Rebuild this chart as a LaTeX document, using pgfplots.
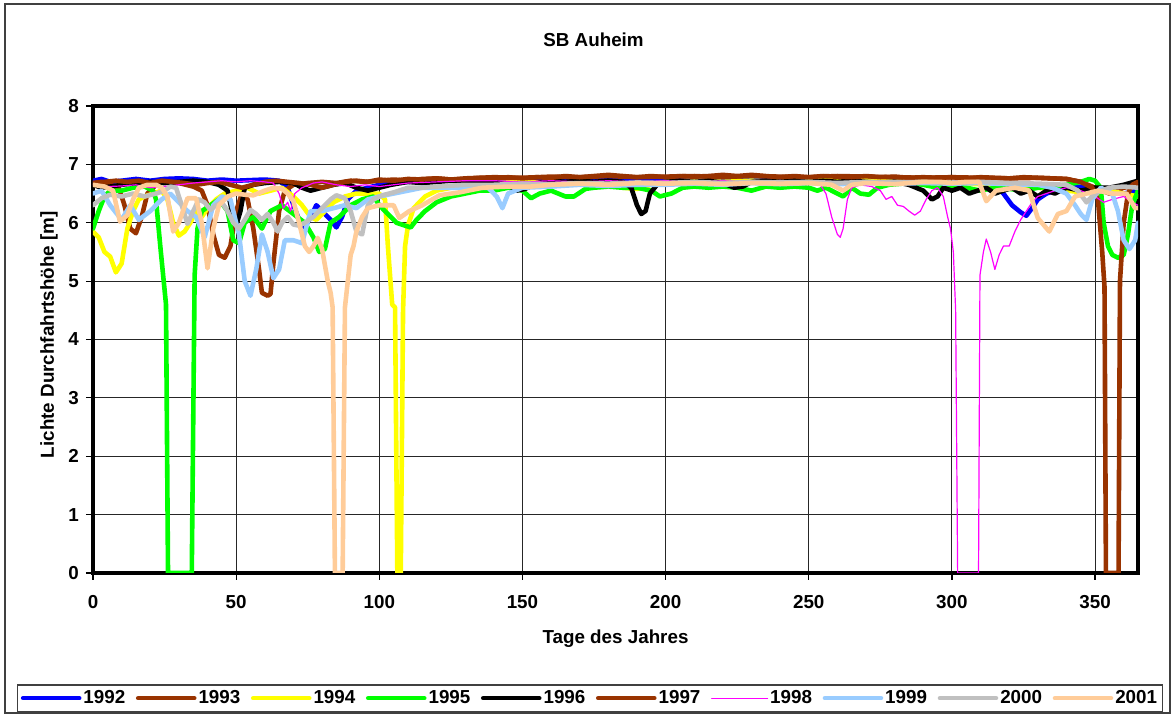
\documentclass[border=0pt]{standalone}
\usepackage{fontspec}
\setmainfont{Liberation Sans}
\usepackage{pgfplots}
\pgfplotsset{compat=1.18}
\definecolor{cA}{HTML}{0000FF}
\definecolor{cB}{HTML}{993300}
\definecolor{cC}{HTML}{FFFF00}
\definecolor{cD}{HTML}{00FF00}
\definecolor{cE}{HTML}{000000}
\definecolor{cF}{HTML}{993300}
\definecolor{cG}{HTML}{FF00FF}
\definecolor{cH}{HTML}{99CCFF}
\definecolor{cI}{HTML}{C0C0C0}
\definecolor{cJ}{HTML}{FFCC99}
\begin{document}
\begin{tikzpicture}[font=\fontsize{9.4}{11}\selectfont\bfseries]
\useasboundingbox (-46.5pt,-71.5pt) rectangle (539pt,286.5pt);
\draw[line width=0.8pt, black!75] (-44pt,-70pt) rectangle (538.5pt,284.5pt);
\begin{axis}[
  at={(0pt,0pt)}, anchor=south west,
  scale only axis, width=522.5pt, height=233.5pt,
  xmin=0, xmax=365, ymin=0, ymax=8,
  xtick={0,50,...,350}, ytick={0,1,...,8},
  grid=major, major grid style={black!85, line width=0.5pt},
  axis line style={line width=2pt},
  tick align=outside, tick pos=left,
  major tick length=3.5pt, tick style={black, line width=0.6pt},
  /pgf/number format/assume math mode=true,
  xticklabel style={yshift=-4pt},
  title={SB Auheim},
  title style={at={(axis description cs:0.479,1)}, anchor=center, yshift=27pt},
  xlabel={Tage des Jahres},
  xlabel style={at={(axis description cs:0.5,0)}, anchor=center, yshift=-33pt},
  ylabel={Lichte Durchfahrtshöhe [m]},
  ylabel style={at={(axis description cs:-0.042,0.51)}, anchor=center},
  no markers,
  every axis plot/.append style={line join=round, line cap=round},
  legend columns=10,
  legend style={at={(axis description cs:0.4756,-0.268)}, anchor=center,
    draw=black!75, line width=0.6pt, inner xsep=1.5pt, inner ysep=1.5pt,
    /tikz/every even column/.append style={column sep=4.3pt},
    nodes={inner xsep=1pt, inner ysep=1pt}},
  legend image code/.code={\draw[#1] (0pt,0pt) -- (28pt,0pt);},
]
\addplot[cA, line width=2.3pt] coordinates {(0,6.72)(3,6.75)(6,6.7)(10,6.72)(15,6.75)(20,6.72)(25,6.75)(30,6.76)(35,6.75)(40,6.72)(45,6.74)(50,6.72)(55,6.73)(60,6.74)(65,6.72)(68,6.6)(70,6.3)(72,6.05)(74,5.92)(76,6.1)(78,6.3)(80,6.2)(83,6.05)(85,5.92)(87,6.1)(89,6.4)(92,6.55)(96,6.6)(100,6.65)(105,6.7)(110,6.7)(115,6.72)(120,6.74)(125,6.72)(130,6.75)(135,6.74)(140,6.76)(145,6.75)(150,6.74)(155,6.75)(160,6.72)(165,6.76)(170,6.74)(175,6.72)(180,6.75)(185,6.73)(190,6.72)(195,6.74)(200,6.72)(205,6.74)(210,6.73)(215,6.75)(220,6.72)(225,6.74)(230,6.76)(235,6.74)(240,6.73)(245,6.75)(250,6.74)(255,6.76)(260,6.78)(265,6.74)(270,6.76)(275,6.74)(280,6.72)(285,6.74)(290,6.72)(295,6.7)(300,6.68)(305,6.7)(310,6.68)(315,6.65)(318,6.5)(321,6.3)(324,6.18)(326,6.12)(328,6.25)(330,6.4)(333,6.5)(336,6.55)(340,6.6)(345,6.62)(350,6.6)(355,6.55)(360,6.5)(365,6.55)};
\addplot[cB, line width=2.3pt] coordinates {(0,6.68)(3,6.7)(6,6.65)(9,6.6)(11,6.3)(13,5.9)(15,5.82)(17,6.1)(19,6.5)(22,6.65)(25,6.7)(30,6.68)(35,6.62)(38,6.55)(40,6.3)(42,5.8)(44,5.45)(46,5.4)(48,5.6)(50,6.2)(52,6.5)(54,6.4)(56,5.9)(58,5.2)(59,4.8)(61,4.75)(62,4.78)(63,5.3)(65,6.2)(67,6.55)(70,6.65)(75,6.68)(80,6.7)(85,6.68)(90,6.72)(95,6.7)(100,6.72)(105,6.74)(110,6.72)(115,6.75)(120,6.76)(125,6.74)(130,6.76)(140,6.78)(150,6.77)(160,6.79)(170,6.78)(180,6.8)(190,6.78)(200,6.79)(210,6.8)(220,6.78)(230,6.8)(240,6.79)(250,6.78)(260,6.8)(270,6.79)(280,6.78)(290,6.77)(300,6.78)(310,6.77)(320,6.76)(330,6.77)(340,6.75)(345,6.7)(350,6.6)(355,6.5)(360,6.6)(365,6.65)};
\addplot[cC, line width=2.3pt] coordinates {(0,5.85)(2,5.75)(4,5.5)(6,5.42)(8,5.15)(10,5.3)(12,5.9)(14,6.2)(16,6.4)(18,6.45)(21,6.5)(24,6.55)(26,6.4)(28,6.0)(30,5.78)(32,5.85)(34,6.0)(36,6.2)(38,6.1)(40,6.25)(43,6.4)(46,6.5)(50,6.55)(54,6.6)(58,6.5)(62,6.55)(66,6.6)(70,6.45)(73,6.3)(76,6.1)(78,6.05)(80,6.15)(84,6.35)(88,6.45)(92,6.5)(96,6.5)(100,6.5)(102,6.4)(103,5.6)(104.5,4.6)(105.5,4.55)(106.3,0)(107.5,0)(108.3,4.5)(109,5.6)(110,5.95)(112,6.25)(116,6.45)(120,6.55)(125,6.6)(130,6.65)(140,6.68)(150,6.7)(160,6.68)(170,6.7)(180,6.66)(185,6.6)(190,6.58)(195,6.65)(200,6.7)(210,6.72)(220,6.7)(230,6.72)(240,6.7)(250,6.72)(260,6.74)(270,6.72)(280,6.7)(290,6.7)(300,6.68)(310,6.66)(320,6.62)(330,6.6)(340,6.55)(350,6.5)(355,6.55)(360,6.5)(365,6.45)};
\addplot[cD, line width=2.3pt] coordinates {(0,5.9)(2,6.2)(4,6.45)(6,6.55)(10,6.55)(14,6.6)(18,6.62)(21,6.55)(22,6.4)(23.5,5.6)(25.5,4.6)(26.2,0)(34.5,0)(35.5,5.1)(36.5,5.9)(38,6.2)(41,6.3)(44,6.4)(47,6.2)(49,5.7)(51,5.65)(53,6.0)(56,6.1)(59,5.9)(62,6.2)(66,6.3)(70,6.15)(74,6.0)(77,5.75)(79,5.5)(81,5.55)(83,6.0)(86,6.1)(90,6.3)(94,6.4)(98,6.45)(100,6.3)(103,6.15)(106,6.0)(109,5.95)(111,5.92)(113,6.05)(116,6.2)(120,6.35)(125,6.45)(130,6.5)(135,6.55)(140,6.55)(145,6.6)(150,6.55)(153,6.42)(156,6.5)(160,6.55)(165,6.45)(168,6.45)(172,6.58)(175,6.6)(180,6.62)(185,6.6)(190,6.6)(195,6.55)(198,6.45)(202,6.5)(206,6.6)(210,6.62)(215,6.6)(220,6.62)(225,6.6)(230,6.55)(235,6.62)(240,6.6)(245,6.62)(250,6.6)(253,6.55)(256,6.6)(260,6.5)(262,6.45)(265,6.6)(268,6.5)(271,6.48)(274,6.6)(278,6.65)(285,6.68)(290,6.65)(295,6.6)(300,6.62)(305,6.6)(310,6.55)(315,6.6)(320,6.58)(325,6.55)(330,6.6)(335,6.62)(340,6.65)(345,6.7)(348,6.75)(350,6.72)(352,6.6)(353,6.0)(354.5,5.6)(356,5.45)(358,5.4)(360,5.45)(361.5,5.8)(363,6.3)(365,6.55)};
\addplot[cE, line width=2.3pt] coordinates {(0,6.65)(3,6.6)(6,6.62)(10,6.65)(15,6.68)(20,6.7)(25,6.68)(30,6.7)(35,6.72)(40,6.7)(44,6.65)(47,6.55)(48.5,6.2)(50,5.95)(51.5,6.2)(53,6.6)(56,6.65)(60,6.68)(65,6.7)(70,6.68)(73,6.6)(76,6.55)(80,6.6)(84,6.65)(88,6.68)(92,6.6)(96,6.55)(100,6.6)(104,6.65)(110,6.7)(115,6.68)(120,6.7)(125,6.72)(130,6.7)(135,6.72)(140,6.7)(145,6.65)(148,6.55)(151,6.58)(155,6.68)(160,6.72)(165,6.7)(170,6.72)(175,6.7)(180,6.72)(185,6.7)(188,6.6)(190,6.3)(191.5,6.15)(193,6.2)(194.5,6.5)(197,6.65)(200,6.7)(205,6.72)(210,6.7)(215,6.72)(220,6.68)(224,6.6)(227,6.62)(230,6.7)(235,6.72)(240,6.7)(245,6.72)(250,6.7)(255,6.72)(260,6.7)(265,6.72)(270,6.7)(275,6.68)(280,6.7)(285,6.65)(290,6.55)(293,6.4)(295,6.45)(297,6.6)(300,6.55)(303,6.6)(306,6.5)(309,6.55)(312,6.6)(315,6.5)(318,6.55)(321,6.6)(324,6.5)(327,6.55)(330,6.45)(333,6.55)(336,6.5)(340,6.6)(345,6.55)(350,6.6)(355,6.6)(360,6.65)(365,6.72)};
\addplot[cF, line width=2.3pt] coordinates {(0,6.68)(4,6.7)(8,6.72)(12,6.7)(16,6.72)(20,6.68)(24,6.72)(28,6.7)(32,6.68)(36,6.65)(40,6.68)(44,6.7)(48,6.65)(52,6.6)(56,6.65)(60,6.7)(64,6.72)(68,6.7)(72,6.68)(76,6.65)(80,6.6)(84,6.65)(88,6.7)(92,6.72)(96,6.7)(100,6.74)(105,6.72)(110,6.75)(115,6.74)(120,6.76)(125,6.74)(130,6.75)(135,6.77)(140,6.76)(145,6.78)(150,6.76)(155,6.78)(160,6.77)(165,6.8)(170,6.78)(175,6.8)(180,6.82)(185,6.8)(190,6.78)(195,6.8)(200,6.78)(205,6.8)(210,6.79)(215,6.8)(220,6.82)(225,6.8)(230,6.82)(235,6.8)(240,6.78)(245,6.8)(250,6.78)(255,6.8)(260,6.79)(265,6.78)(270,6.8)(275,6.78)(280,6.79)(285,6.77)(290,6.78)(295,6.77)(300,6.78)(305,6.76)(310,6.78)(315,6.77)(320,6.76)(325,6.78)(330,6.77)(335,6.76)(340,6.75)(345,6.7)(349,6.6)(351,6.4)(352.5,5.5)(353.3,4.9)(353.8,0)(358.2,0)(358.7,5.0)(360,6.0)(361.5,6.5)(363,6.65)(365,6.7)};
\addplot[cG, line width=0.6pt] coordinates {(0,6.65)(5,6.62)(10,6.63)(15,6.65)(20,6.6)(25,6.62)(30,6.65)(35,6.68)(40,6.7)(45,6.72)(50,6.7)(55,6.72)(60,6.7)(63,6.68)(65,6.5)(66.5,6.25)(68,6.35)(69,6.2)(70.5,6.5)(73,6.6)(77,6.68)(80,6.7)(85,6.65)(90,6.62)(95,6.65)(100,6.62)(105,6.65)(110,6.68)(120,6.7)(130,6.72)(140,6.72)(150,6.7)(160,6.72)(170,6.7)(180,6.72)(190,6.7)(200,6.72)(210,6.7)(220,6.72)(230,6.7)(240,6.72)(250,6.7)(254,6.65)(256,6.5)(258,6.1)(260,5.8)(261,5.75)(262,5.9)(263.5,6.4)(265,6.6)(268,6.65)(272,6.62)(275,6.55)(277,6.4)(279,6.45)(281,6.3)(283,6.28)(285,6.2)(287,6.13)(289,6.2)(291,6.4)(293,6.55)(295,6.6)(297,6.45)(298.5,6.1)(299.5,5.9)(300.5,5.5)(301.3,4.5)(302,0)(309.3,0)(309.8,5.1)(311,5.5)(312,5.72)(313.5,5.5)(315,5.2)(316.5,5.45)(318,5.6)(320,5.6)(322,5.85)(324,6.05)(326,6.2)(328,6.35)(330,6.45)(333,6.5)(336,6.55)(340,6.6)(345,6.55)(350,6.45)(353,6.35)(356,6.4)(360,6.45)(363,6.35)(365,6.3)};
\addplot[cH, line width=2.3pt] coordinates {(0,6.5)(3,6.55)(6,6.3)(10,6.05)(13,6.3)(16,6.05)(20,6.2)(24,6.4)(27,6.5)(30,6.35)(33,6.2)(36,6.1)(39,5.75)(42,6.3)(45,6.45)(48,6.4)(51,5.8)(53,5.0)(55,4.75)(57,5.2)(59,5.8)(61,5.5)(63,5.05)(65,5.2)(67,5.7)(70,5.7)(73,5.65)(76,6.2)(80,6.2)(84,6.25)(88,6.3)(92,6.25)(96,6.4)(100,6.45)(105,6.5)(110,6.55)(115,6.6)(120,6.6)(130,6.6)(138,6.6)(141,6.45)(143,6.25)(145,6.5)(150,6.6)(160,6.62)(170,6.65)(180,6.63)(190,6.65)(200,6.65)(210,6.67)(220,6.65)(230,6.68)(240,6.66)(250,6.68)(260,6.66)(270,6.68)(280,6.67)(290,6.68)(300,6.67)(310,6.68)(320,6.66)(330,6.65)(335,6.6)(340,6.5)(343,6.3)(345,6.15)(347,6.05)(349,6.4)(352,6.6)(356,6.5)(358,6.2)(360,5.7)(362,5.55)(364,5.7)(365,6.0)};
\addplot[cI, line width=2.3pt] coordinates {(0,6.3)(3,6.42)(6,6.48)(10,6.45)(14,6.5)(18,6.45)(22,6.5)(25,6.55)(27,6.62)(29,6.6)(31,6.3)(33,5.98)(35,6.2)(37,6.4)(39,6.35)(41,6.22)(43,6.3)(45,6.35)(47,6.2)(49,6.0)(51,5.9)(53,6.05)(55,6.22)(57,6.15)(59,6.05)(61,6.15)(63,6.0)(64.5,5.85)(66,6.0)(68,6.1)(70,5.97)(72,5.95)(74,6.0)(77,6.1)(80,6.25)(83,6.4)(85,6.47)(88,6.42)(90,6.2)(92,5.85)(94,5.8)(96,6.3)(98,6.4)(101,6.47)(105,6.52)(110,6.6)(115,6.6)(120,6.62)(130,6.65)(140,6.65)(150,6.67)(160,6.66)(170,6.68)(180,6.67)(190,6.69)(200,6.68)(210,6.7)(220,6.68)(230,6.7)(240,6.69)(250,6.7)(260,6.68)(270,6.7)(280,6.69)(290,6.7)(300,6.68)(310,6.7)(320,6.68)(330,6.67)(340,6.65)(344,6.55)(347,6.35)(350,6.5)(355,6.6)(360,6.62)(365,6.6)};
\addplot[cJ, line width=2.3pt] coordinates {(0,6.65)(4,6.62)(7,6.55)(9.4,6.02)(12,6.13)(14,6.4)(16,6.6)(19,6.65)(22,6.65)(24,6.6)(26,6.45)(28,5.85)(30,6.0)(33,6.42)(36,6.42)(38,6.0)(40,5.22)(42,5.9)(44,6.3)(47,6.45)(50,6.5)(53,6.48)(56,6.47)(60,6.55)(63,6.6)(66,6.58)(68,6.5)(70,6.37)(72,6.0)(74,5.6)(75.5,5.5)(77,5.6)(78.5,5.74)(80,5.55)(82,5.0)(83,4.8)(83.7,4.55)(84.5,0)(87.2,0)(88,4.55)(89,5.0)(90,5.45)(91,5.6)(92,5.85)(94,6.1)(96,6.25)(100,6.3)(105,6.3)(107,6.08)(110.5,6.2)(115,6.3)(121,6.47)(128,6.52)(136,6.6)(145,6.62)(153,6.62)(160,6.65)(170,6.67)(180,6.65)(190,6.68)(200,6.67)(210,6.68)(220,6.66)(230,6.68)(240,6.67)(250,6.68)(258,6.65)(262,6.55)(265,6.65)(270,6.68)(280,6.66)(290,6.7)(296,6.7)(300,6.68)(305,6.7)(309.5,6.7)(312,6.37)(315.4,6.55)(322,6.6)(327,6.55)(330,6.08)(334,5.85)(337,6.15)(340,6.2)(343,6.45)(347,6.5)(351,6.55)(356,6.5)(361,6.5)(364,6.25)(365,6.25)};
\legend{1992,1993,1994,1995,1996,1997,1998,1999,2000,2001}
\end{axis}
\end{tikzpicture}
\end{document}
